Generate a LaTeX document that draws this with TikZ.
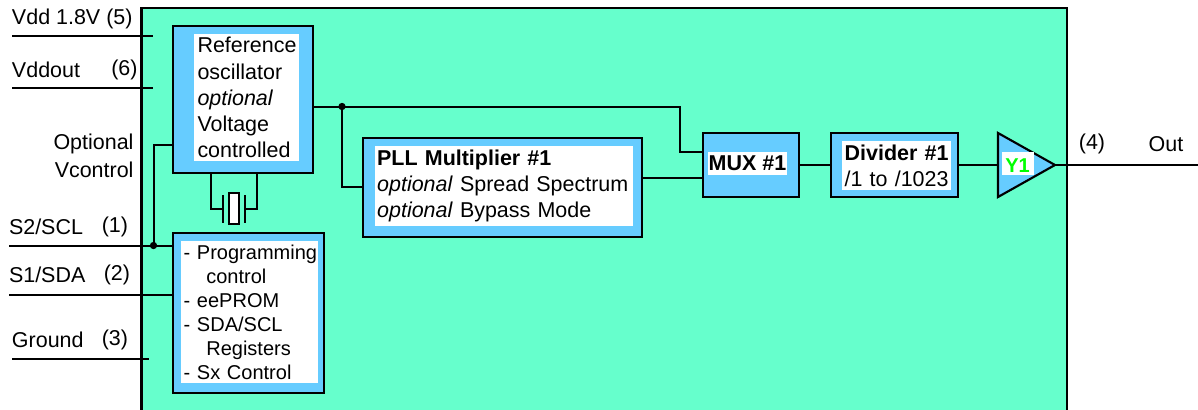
\documentclass[tikz,border=0pt]{standalone}
\usepackage{fontspec}
\setmainfont{Liberation Sans}
\definecolor{chipfill}{HTML}{66FFCC}
\definecolor{boxfill}{HTML}{66CCFF}
\definecolor{ygreen}{HTML}{00FF00}
\tikzset{
  px/.style={x=0.75pt,y=-0.75pt},
  wire/.style={line width=1.5pt,line join=miter},
  block/.style={draw=black,line width=1.6pt,fill=boxfill,inner sep=0pt,outer sep=0pt},
  panel/.style={fill=white,inner sep=0pt,outer sep=0pt,align=left},
  big/.style={font=\fontsize{16.1}{19.6}\selectfont},
  small/.style={font=\fontsize{15}{18}\selectfont},
  lbl/.style={big,inner sep=0pt,outer sep=0pt},
  dot/.style={circle,fill=black,inner sep=0pt,minimum size=5.5pt},
}
\newcommand{\boxat}[6]{% name, x0, y0, x1, y1, options
  \node[#6,anchor=north west,minimum width={(#4-#2)*0.75pt},minimum height={(#5-#3)*0.75pt}] (#1) at (#2,#3) {};}
\begin{document}
\begin{tikzpicture}[px]
\useasboundingbox (0,0) rectangle (1198,410);
% chip body, open at the bottom of the picture
\node[fill=chipfill,inner sep=0pt,outer sep=0pt,anchor=north west,minimum width={925.5*0.75pt},minimum height={402*0.75pt}] (chip) at (141.5,8) {};
\draw[line width=1.6pt] (chip.south west) -- (chip.north west) -- (chip.north east) -- (chip.south east);

% blocks
\boxat{osc}{173}{26}{313}{173}{block}
\boxat{prog}{173}{233}{324}{393}{block}
\boxat{pll}{363}{138}{642}{237}{block}
\boxat{mux}{703}{133}{799}{197}{block}
\boxat{div}{831}{133}{958}{197}{block}
\path[draw=black,fill=boxfill,line width=1.6pt,line join=miter] (998,133) coordinate (ampa) -- (1055,165) coordinate (ampo) -- (998,197) -- cycle;
\coordinate (ampi) at (998,165);

% text panels
\node[panel,big,anchor=north west,minimum width={105*0.75pt},minimum height={127*0.75pt},text width={102*0.75pt}] (osct) at (194,34) {\hspace*{1.5pt}Reference\\\hspace*{1.5pt}oscillator\\\hspace*{1.5pt}\textit{optional}\\\hspace*{1.5pt}Voltage\\\hspace*{1.5pt}controlled};
\node[panel,small,anchor=north west,minimum width={137*0.75pt},minimum height={142*0.75pt},text width={137*0.75pt}] (progt) at (181,241) {\hspace*{2pt}- Programming\\\hspace*{19pt}control\\\hspace*{2pt}- eePROM\\\hspace*{2pt}- SDA/SCL\\\hspace*{19pt}Registers\\\hspace*{2pt}- Sx Control};
\node[panel,big,anchor=north west,minimum width={258*0.75pt},minimum height={80*0.75pt},text width={258*0.75pt}] (pllt) at (374.5,146) {\hspace*{2pt}\textbf{PLL Multiplier \#1}\\\hspace*{2pt}\textit{optional} Spread Spectrum\\\hspace*{2pt}\textit{optional} Bypass Mode};
\node[panel,big,anchor=north west,minimum width={79*0.75pt},minimum height={23*0.75pt}] (muxt) at (708,152) {\makebox[59.25pt][l]{\hspace*{0.5pt}\textbf{MUX \#1}}};
\node[panel,big,anchor=north west,minimum width={109*0.75pt},minimum height={49*0.75pt},text width={109*0.75pt}] (divt) at (842,141) {\hspace*{2pt}\textbf{Divider \#1}\\\hspace*{2pt}/1 to /1023};
\node[panel,small,anchor=north west,minimum width={32*0.75pt},minimum height={23*0.75pt},text=ygreen] (ampt) at (1002,152) {\makebox[24pt][l]{\raisebox{0pt}[13.5pt][0pt]{\hspace*{2.5pt}\textbf{Y1}}}};

% pin labels
\node[lbl,anchor=west] (lvdd) at (12,19) {Vdd 1.8V (5)};
\node[lbl,anchor=west] (lvddo) at (12,70) {Vddout};
\node[lbl,anchor=east] (l6) at (137.5,70) {(6)};
\node[lbl,anchor=east] (lopt) at (133.5,144) {Optional};
\node[lbl,anchor=east] (lvc) at (133.5,170) {Vcontrol};
\node[lbl,anchor=west] (ls2) at (9,227) {S2/SCL};
\node[lbl,anchor=east] (l1) at (128,227) {(1)};
\node[lbl,anchor=west] (ls1) at (9,275) {S1/SDA};
\node[lbl,anchor=east] (l2) at (130,275) {(2)};
\node[lbl,anchor=west] (lgnd) at (12,340) {Ground};
\node[lbl,anchor=east] (l3) at (128,340) {(3)};
\node[lbl] (l4) at (1092,144) {(4)};
\node[lbl] (lout) at (1166,144) {Out};

% pins
\coordinate (p5a) at (12,36.5); \coordinate (p5b) at (153,36.5);
\coordinate (p6a) at (12,88); \coordinate (p6b) at (153,88);
\coordinate (p1a) at (9,245.5); \coordinate (p2a) at (9,294.5);
\coordinate (p3a) at (12,359); \coordinate (p3b) at (149,359);
\coordinate (p4b) at (1198,165);
\draw[wire] (p5a) -- (p5b);
\draw[wire] (p6a) -- (p6b);
\draw[wire] (p1a) -- (p1a -| prog.west);
\draw[wire] (p2a) -- (p2a -| prog.west);
\draw[wire] (p3a) -- (p3b);
\draw[wire] (ampo) -- (p4b);

% Vcontrol
\coordinate (vc) at (153.5,145);
\node[dot] (j2) at (153.5,245.5) {};
\draw[wire] (vc -| osc.west) -- (vc) -- (j2.center);

% oscillator output
\node[dot] (j1) at (342,106.5) {};
\coordinate (t1) at (680,106.5);
\coordinate (t2) at (680,152);
\coordinate (t3) at (342,187);
\draw[wire] (j1.center -| osc.east) -- (j1.center) -- (t1) -- (t2) -- (t2 -| mux.west);
\draw[wire] (j1.center) -- (t3) -- (t3 -| pll.west);
\coordinate (m1) at (642,178);
\draw[wire] (m1 -| pll.east) -- (m1 -| mux.west);
\draw[wire] (mux.east) -- (div.west);
\draw[wire] (div.east) -- (ampi);

% crystal
\node[draw=black,fill=white,line width=1.5pt,inner sep=0pt,outer sep=0pt,minimum width={10*0.75pt},minimum height={31*0.75pt}] (xtal) at (234,208.5) {};
\coordinate (pl1) at (223,208.5); \coordinate (pl2) at (244.5,208.5);
\draw[wire] (223,195) -- (223,223);
\draw[wire] (244.5,195) -- (244.5,223);
\coordinate (xl) at (210.5,173); \coordinate (xr) at (257,173);
\draw[wire] (xl) -- (xl |- pl1) -- (pl1);
\draw[wire] (xr) -- (xr |- pl2) -- (pl2);
\end{tikzpicture}
\end{document}
